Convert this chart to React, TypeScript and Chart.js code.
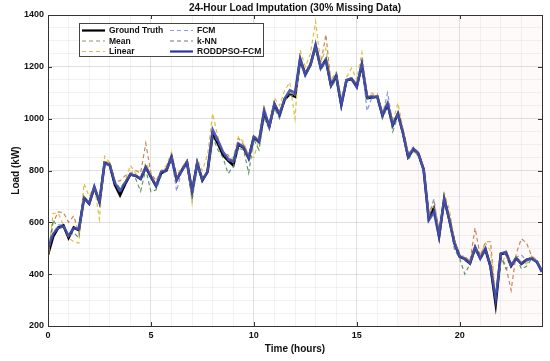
import React, { useEffect, useRef } from 'react';
import { Chart, registerables } from 'chart.js';
Chart.register(...registerables);

const hours = [
  0, 0.25, 0.5, 0.75, 1, 1.25, 1.5, 1.75, 2, 2.25, 2.5, 2.75, 3, 3.25, 3.5, 3.75,
  4, 4.25, 4.5, 4.75, 5, 5.25, 5.5, 5.75, 6, 6.25, 6.5, 6.75, 7, 7.25, 7.5, 7.75,
  8, 8.25, 8.5, 8.75, 9, 9.25, 9.5, 9.75, 10, 10.25, 10.5, 10.75, 11, 11.25, 11.5, 11.75,
  12, 12.25, 12.5, 12.75, 13, 13.25, 13.5, 13.75, 14, 14.25, 14.5, 14.75, 15, 15.25, 15.5, 15.75,
  16, 16.25, 16.5, 16.75, 17, 17.25, 17.5, 17.75, 18, 18.25, 18.5, 18.75, 19, 19.25, 19.5, 19.75,
  20, 20.25, 20.5, 20.75, 21, 21.25, 21.5, 21.75, 22, 22.25, 22.5, 22.75, 23, 23.25, 23.5, 23.75, 24,
];

const groundTruth = [
  475, 545, 580, 588, 540, 580, 570, 695, 672, 735, 678, 830, 822, 745, 705, 748,
  785, 780, 768, 812, 775, 740, 790, 800, 852, 765, 800, 832, 718, 828, 762, 795,
  940, 905, 860, 838, 820, 900, 888, 848, 928, 910, 1025, 970, 1055, 1015, 1075, 1095,
  1085, 1228, 1172, 1208, 1280, 1198, 1228, 1128, 1165, 1055, 1148, 1152, 1125, 1208, 1080, 1082,
  1085, 1012, 1055, 975, 1018, 945, 852, 882, 862, 805, 615, 655, 548, 690, 610, 520,
  468, 458, 442, 502, 462, 495, 430, 285, 478, 482, 432, 462, 440, 455, 462, 448, 410,
];

const meanImp = [
  455, 600, 640, 638, 600, 625, 560, 700, 680, 740, 690, 835, 830, 760, 760, 780,
  790, 800, 790, 905, 790, 760, 800, 810, 850, 780, 810, 840, 730, 830, 770, 800,
  945, 910, 870, 860, 830, 925, 900, 860, 935, 920, 1020, 985, 1060, 1030, 1080, 1100,
  1090, 1230, 1180, 1215, 1285, 1210, 1325, 1140, 1165, 1065, 1150, 1160, 1135, 1215, 1090, 1090,
  1095, 1020, 1060, 990, 1020, 950, 860, 885, 870, 810, 630, 660, 560, 700, 620, 530,
  470, 470, 450, 578, 470, 525, 525, 300, 470, 430, 338, 480, 537, 520, 470, 455, 412,
];

const linearImp = [
  470, 635, 635, 590, 540, 525, 520, 750, 700, 740, 612, 855, 830, 750, 720, 760,
  820, 790, 770, 830, 790, 745, 800, 820, 870, 770, 810, 840, 675, 845, 800, 860,
  1020, 930, 870, 845, 850, 930, 910, 855, 850, 920, 1050, 960, 1080, 1050, 1110, 1140,
  1000, 1265, 1200, 1250, 1375, 1215, 1270, 1150, 1180, 1080, 1160, 1195, 1150, 1255, 1090, 1100,
  1080, 1030, 1070, 990, 1060, 960, 870, 880, 860, 800, 630, 690, 560, 712, 650, 530,
  470, 465, 450, 510, 470, 520, 490, 330, 440, 470, 430, 470, 445, 440, 470, 450, 412,
];

const fcmImp = [
  490, 560, 590, 590, 550, 575, 575, 690, 675, 740, 680, 825, 820, 750, 715, 755,
  785, 780, 770, 815, 780, 745, 795, 805, 850, 720, 800, 830, 720, 825, 765, 800,
  950, 915, 870, 840, 830, 900, 890, 850, 930, 915, 1030, 975, 1060, 1020, 1080, 1100,
  1095, 1230, 1165, 1205, 1280, 1200, 1235, 1130, 1165, 1060, 1150, 1150, 1130, 1210, 1030, 1085,
  1085, 1015, 1100, 980, 1020, 945, 855, 890, 870, 810, 620, 690, 550, 690, 612, 520,
  470, 455, 440, 505, 465, 495, 435, 305, 480, 480, 440, 465, 475, 450, 465, 450, 412,
];

const knnImp = [
  480, 610, 575, 585, 545, 560, 540, 690, 680, 730, 690, 820, 830, 760, 730, 760,
  785, 770, 720, 805, 718, 725, 780, 800, 840, 760, 795, 825, 690, 810, 760, 790,
  930, 880, 850, 788, 815, 885, 880, 790, 920, 880, 1000, 960, 1040, 1000, 1070, 1090,
  1090, 1215, 1165, 1200, 1270, 1190, 1215, 1120, 1150, 1060, 1140, 1150, 1120, 1200, 1075, 1080,
  1090, 1000, 1050, 950, 1010, 935, 840, 875, 855, 800, 610, 645, 550, 680, 600, 495,
  460, 400, 440, 490, 460, 490, 445, 300, 470, 420, 440, 470, 420, 430, 460, 445, 408,
];

const roddpsoImp = [
  500, 555, 578, 585, 548, 578, 574, 692, 672, 738, 678, 828, 820, 752, 722, 752,
  786, 780, 768, 814, 776, 740, 795, 801, 853, 763, 801, 833, 718, 830, 763, 795,
  958, 918, 872, 845, 835, 904, 891, 846, 930, 911, 1033, 969, 1059, 1014, 1078, 1110,
  1100, 1233, 1168, 1207, 1286, 1194, 1226, 1130, 1168, 1052, 1149, 1155, 1121, 1213, 1085, 1085,
  1085, 1014, 1059, 976, 1020, 943, 853, 885, 866, 801, 608, 640, 544, 692, 608, 518,
  467, 460, 441, 505, 460, 499, 428, 302, 479, 486, 434, 460, 441, 456, 460, 447, 409,
];

const seriesNames = ['Ground Truth', 'Mean', 'Linear', 'FCM', 'k-NN', 'RODDPSO-FCM'];
const missingStart = 17;
const missingEnd = 24;
const xTickLabels = [0, 5, 10, 15, 20];
const yTickLabels = [200, 400, 600, 800, 1000, 1200, 1400];

const FONT = '"Liberation Sans", Arial, Helvetica, sans-serif';

const styles = [
  { color: '#000000', width: 2.6, dash: [] as number[] },
  { color: 'rgba(196,120,70,0.9)', width: 1.2, dash: [4, 3] },
  { color: 'rgba(214,190,60,0.95)', width: 1.2, dash: [4, 3] },
  { color: 'rgba(130,145,225,0.95)', width: 1.2, dash: [4, 3] },
  { color: 'rgba(80,140,90,0.9)', width: 1.2, dash: [4, 3] },
  { color: 'rgba(62,72,178,0.88)', width: 2.5, dash: [] as number[] },
];
const legendColors = ['#000000', '#9a8a70', '#d4c050', '#8f9be0', '#707a70', '#2c36a0'];

const framePlugin = {
  id: 'framePlugin',
  beforeDatasetsDraw(chart: any) {
    const { ctx, chartArea, scales } = chart;
    const x0 = scales.x.getPixelForValue(missingStart);
    const x1 = scales.x.getPixelForValue(missingEnd);
    ctx.save();
    ctx.fillStyle = 'rgba(255,190,190,0.07)';
    ctx.fillRect(x0, chartArea.top, x1 - x0, chartArea.bottom - chartArea.top);
    ctx.restore();
  },
  afterDraw(chart: any) {
    const { ctx, chartArea, scales } = chart;
    const { left, right, top, bottom } = chartArea;
    ctx.save();
    // box
    ctx.strokeStyle = '#333';
    ctx.lineWidth = 1;
    ctx.strokeRect(Math.round(left) + 0.5, Math.round(top) + 0.5, Math.round(right - left), Math.round(bottom - top));
    // inward ticks
    const tl = 4;
    ctx.beginPath();
    xTickLabels.forEach((v) => {
      const px = Math.round(scales.x.getPixelForValue(v)) + 0.5;
      ctx.moveTo(px, bottom); ctx.lineTo(px, bottom - tl);
      ctx.moveTo(px, top); ctx.lineTo(px, top + tl);
    });
    yTickLabels.forEach((v) => {
      const py = Math.round(scales.y.getPixelForValue(v)) + 0.5;
      ctx.moveTo(left, py); ctx.lineTo(left + tl, py);
      ctx.moveTo(right, py); ctx.lineTo(right - tl, py);
    });
    ctx.stroke();

    // title
    ctx.fillStyle = '#111';
    ctx.font = `bold 10px ${FONT}`;
    ctx.textAlign = 'center';
    ctx.textBaseline = 'middle';
    ctx.fillText('24-Hour Load Imputation (30% Missing Data)', (left + right) / 2, 8);
    // axis titles
    ctx.fillText('Time (hours)', (left + right) / 2, 349);
    ctx.save();
    ctx.translate(16, (top + bottom) / 2);
    ctx.rotate(-Math.PI / 2);
    ctx.fillText('Load (kW)', 0, 0);
    ctx.restore();

    // legend
    const bx = 79.5, by = 23.5, bw = 184, bh = 33;
    ctx.fillStyle = '#ffffff';
    ctx.fillRect(bx, by, bw, bh);
    ctx.strokeStyle = '#444';
    ctx.lineWidth = 1;
    ctx.strokeRect(bx, by, bw, bh);
    const rows = [30.5, 41, 51.5];
    const cols = [{ lx: 82, tx: 109 }, { lx: 170, tx: 197 }];
    ctx.font = `bold 8.5px ${FONT}`;
    ctx.textAlign = 'left';
    ctx.textBaseline = 'middle';
    seriesNames.forEach((name, i) => {
      const c = cols[Math.floor(i / 3)];
      const y = rows[i % 3];
      const st = styles[i];
      ctx.beginPath();
      ctx.strokeStyle = legendColors[i];
      ctx.lineWidth = st.dash.length ? 1.2 : 2.2;
      ctx.setLineDash(st.dash);
      ctx.moveTo(c.lx, y);
      ctx.lineTo(c.lx + 23, y);
      ctx.stroke();
      ctx.setLineDash([]);
      ctx.fillStyle = '#111';
      ctx.fillText(name, c.tx, y + 0.5);
    });
    ctx.restore();
  },
};

export default function App() {
  const ref = useRef<HTMLCanvasElement>(null);
  useEffect(() => {
    const all = [groundTruth, meanImp, linearImp, fcmImp, knnImp, roddpsoImp];
    const datasets = all.map((arr, i) => ({
      label: seriesNames[i],
      data: hours.map((h, k) => ({ x: h, y: arr[k] })),
      borderColor: styles[i].color,
      borderWidth: styles[i].width,
      borderDash: styles[i].dash,
      pointRadius: 0,
      tension: 0,
      fill: false,
      order: all.length - i,
    }));
    const gridColor = (major: (v: number) => boolean) => (ctx: any) =>
      ctx.tick && major(ctx.tick.value) ? 'rgba(0,0,0,0.12)' : 'rgba(0,0,0,0.05)';
    const chart = new Chart(ref.current as HTMLCanvasElement, {
      type: 'line',
      data: { datasets },
      plugins: [framePlugin],
      options: {
        animation: false,
        responsive: true,
        maintainAspectRatio: false,
        layout: { padding: { left: 0, right: 8, top: 15, bottom: 0 } },
        plugins: { legend: { display: false }, title: { display: false }, tooltip: { enabled: false } },
        scales: {
          x: {
            type: 'linear',
            min: 0,
            max: 24,
            afterFit: (s: any) => { s.height = 35; },
            border: { display: false },
            grid: { drawTicks: false, color: gridColor((v) => v % 5 === 0), lineWidth: 1 },
            ticks: {
              stepSize: 1,
              autoSkip: false,
              maxRotation: 0,
              padding: 4,
              color: '#111',
              font: { size: 9, weight: 'bold', family: FONT },
              callback: (v: any) => (xTickLabels.includes(Number(v)) ? String(v) : ''),
            },
          },
          y: {
            type: 'linear',
            min: 200,
            max: 1400,
            afterFit: (s: any) => { s.width = 48; },
            border: { display: false },
            grid: { drawTicks: false, color: gridColor((v) => v % 200 === 0), lineWidth: 1 },
            ticks: {
              stepSize: 50,
              autoSkip: false,
              padding: 4,
              color: '#111',
              font: { size: 9, weight: 'bold', family: FONT },
              callback: (v: any) => (yTickLabels.includes(Number(v)) ? String(v) : ''),
            },
          },
        },
      } as any,
    });
    return () => chart.destroy();
  }, []);
  return (
    <div style={{ position: 'fixed', left: 0, top: 0, width: 550, height: 361, background: '#fff' }}>
      <canvas ref={ref} />
    </div>
  );
}
